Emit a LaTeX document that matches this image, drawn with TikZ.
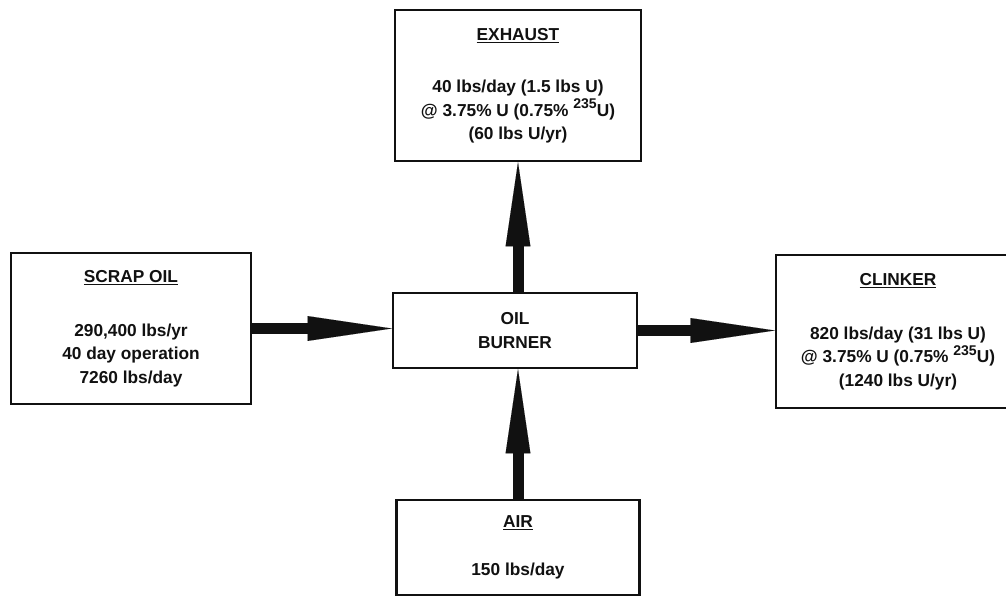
\documentclass[tikz,border=0pt]{standalone}
\usepackage{fontspec}
\setmainfont{Liberation Sans}
\usepackage{tikz}
\usetikzlibrary{arrows.meta}
\definecolor{Ink}{HTML}{111111}
\newcommand{\isotope}[1]{\raisebox{0.85ex}{\fontsize{10}{10}\selectfont #1}}
\tikzset{
  block/.style={draw=Ink,line width=1.8pt,fill=white,align=center,inner sep=0pt,
    font=\fontsize{12.3}{16.5}\selectfont\bfseries,text=Ink},
  feed/.style={draw=Ink,fill=Ink,line width=2.75mm,
    -{Triangle[length=21mm,width=6.2mm,line width=0.01pt]}}
}

\begin{document}
\begin{tikzpicture}[x=0.25mm,y=-0.25mm]
  \clip (0,0) rectangle (1006,600);
  % boxes
  \node[block,minimum width=61.5mm,minimum height=37.75mm] (exhaust) at (518,85.5)
    {\underline{EXHAUST}\\[21pt]40 lbs/day (1.5 lbs U)\\@ 3.75\% U (0.75\% \isotope{235}U)\\(60 lbs U/yr)};
  \node[block,minimum width=60mm,minimum height=37.75mm] (scrap) at (131,328.5)
    {\underline{SCRAP OIL}\\[22pt]290,400 lbs/yr\\40 day operation\\7260 lbs/day};
  \node[block,minimum width=61mm,minimum height=18.75mm] (burner) at (515,330.5)
    {OIL\\BURNER};
  \node[block,minimum width=61mm,minimum height=38.25mm] (clinker) at (898,331.5)
    {\underline{CLINKER}\\[22pt]820 lbs/day (31 lbs U)\\@ 3.75\% U (0.75\% \isotope{235}U)\\(1240 lbs U/yr)};
  \node[block,minimum width=60.75mm,minimum height=23.75mm] (air) at (518,547.5)
    {\underline{AIR}\\[18pt]150 lbs/day};
  % flows
  \draw[feed] (scrap.east) -- (scrap.east -| burner.west);
  \draw[feed] (burner.east) -- (burner.east -| clinker.west);
  \draw[feed] (burner.north -| exhaust.south) -- (exhaust.south);
  \draw[feed] (air.north) -- (air.north |- burner.south);
\end{tikzpicture}
\end{document}
